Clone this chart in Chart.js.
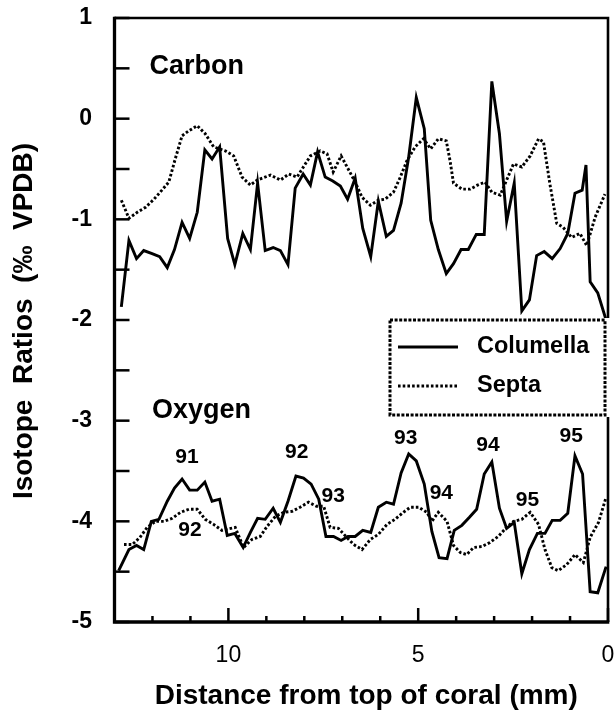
<!DOCTYPE html>
<html>
<head>
<meta charset="utf-8">
<script src="https://cdn.jsdelivr.net/npm/chart.js@4.4.1/dist/chart.umd.min.js"></script>
<style>
  html, body { margin: 0; padding: 0; background: #fff; }
  canvas { display: block; }
</style>
</head>
<body>
<canvas id="c" width="615" height="724" style="width:615px;height:724px"></canvas>
<script>
// Distance from top of coral (mm) and isotope ratios (‰ VPDB)

// Carbon – columella
const carbonColumellaX = [12.82,12.62,12.42,12.23,12.01,11.81,11.61,11.42,11.22,11.02,10.82,10.62,10.43,10.23,10.02,9.83,9.62,9.42,9.23,9.03,8.82,8.63,8.43,8.24,8.03,7.84,7.65,7.45,7.25,7.05,6.86,6.66,6.46,6.25,6.05,5.84,5.65,5.45,5.25,5.05,4.84,4.67,4.47,4.26,4.07,3.87,3.68,3.47,3.26,3.06,2.86,2.67,2.47,2.27,2.07,1.88,1.68,1.47,1.26,1.06,0.87,0.68,0.58,0.47,0.27,0.05];
const carbonColumellaY = [-1.87,-1.21,-1.39,-1.31,-1.34,-1.37,-1.48,-1.30,-1.03,-1.19,-0.93,-0.31,-0.40,-0.28,-1.19,-1.45,-1.14,-1.30,-0.64,-1.31,-1.28,-1.31,-1.45,-0.69,-0.55,-0.66,-0.33,-0.58,-0.62,-0.67,-0.80,-0.59,-1.09,-1.37,-0.82,-1.17,-1.11,-0.84,-0.38,0.21,-0.10,-1.01,-1.30,-1.54,-1.44,-1.30,-1.30,-1.15,-1.15,0.37,-0.15,-1.02,-0.64,-1.91,-1.80,-1.36,-1.32,-1.39,-1.29,-1.14,-0.74,-0.71,-0.46,-1.62,-1.73,-2.00];

// Carbon – septa
const carbonSeptaX = [12.82,12.62,12.40,12.18,11.96,11.75,11.57,11.40,11.22,11.04,10.82,10.61,10.39,10.08,9.86,9.64,9.42,9.24,8.89,8.63,8.41,8.19,7.84,7.58,7.40,7.24,7.03,6.83,6.66,6.48,6.26,6.05,5.87,5.65,5.47,5.30,5.08,4.86,4.67,4.47,4.26,4.16,4.07,3.85,3.63,3.44,3.24,3.06,2.84,2.67,2.49,2.27,2.05,1.83,1.70,1.53,1.35,1.18,0.96,0.74,0.56,0.34,0.08];
const carbonSeptaY = [-0.81,-0.99,-0.93,-0.88,-0.80,-0.71,-0.63,-0.40,-0.17,-0.12,-0.07,-0.15,-0.28,-0.32,-0.37,-0.58,-0.66,-0.61,-0.56,-0.61,-0.55,-0.58,-0.37,-0.32,-0.35,-0.53,-0.37,-0.51,-0.63,-0.78,-0.86,-0.81,-0.80,-0.73,-0.58,-0.42,-0.28,-0.20,-0.30,-0.20,-0.22,-0.42,-0.64,-0.70,-0.70,-0.66,-0.63,-0.73,-0.76,-0.61,-0.45,-0.48,-0.37,-0.20,-0.23,-0.65,-1.04,-1.08,-1.18,-1.14,-1.26,-0.98,-0.75];

// Oxygen – columella
const oxygenColumellaX = [12.89,12.62,12.42,12.23,12.03,11.83,11.61,11.42,11.22,11.02,10.82,10.62,10.43,10.23,10.03,9.83,9.61,9.42,9.23,9.03,8.82,8.63,8.43,8.22,8.02,7.82,7.62,7.43,7.23,7.03,6.85,6.66,6.46,6.25,6.05,5.84,5.65,5.45,5.25,5.05,4.84,4.64,4.45,4.24,4.05,3.85,3.65,3.46,3.26,3.06,2.86,2.67,2.47,2.27,2.07,1.86,1.66,1.47,1.26,1.06,0.87,0.67,0.47,0.27,0.05];
const oxygenColumellaY = [-4.49,-4.28,-4.24,-4.28,-4.00,-3.98,-3.80,-3.67,-3.58,-3.69,-3.69,-3.61,-3.80,-3.78,-4.14,-4.12,-4.26,-4.11,-3.97,-3.98,-3.87,-4.01,-3.80,-3.55,-3.57,-3.63,-3.78,-4.15,-4.15,-4.19,-4.15,-4.15,-4.09,-4.11,-3.86,-3.81,-3.83,-3.52,-3.33,-3.40,-3.63,-4.10,-4.36,-4.37,-4.09,-4.04,-3.96,-3.88,-3.53,-3.41,-3.87,-4.07,-4.01,-4.52,-4.28,-4.12,-4.12,-3.99,-3.99,-3.92,-3.35,-3.53,-4.70,-4.71,-4.45];

// Oxygen – septa
const oxygenSeptaX = [12.75,12.53,12.33,12.14,11.92,11.70,11.48,11.26,11.04,10.82,10.61,10.39,10.17,9.82,9.60,9.38,9.16,8.98,8.76,8.54,8.32,8.11,7.89,7.68,7.49,7.32,7.10,6.88,6.70,6.48,6.26,6.05,5.82,5.61,5.39,5.21,4.99,4.77,4.64,4.47,4.24,4.07,3.89,3.72,3.54,3.32,3.11,2.89,2.67,2.49,2.27,2.05,1.83,1.66,1.48,1.31,1.09,0.87,0.65,0.47,0.25,0.05];
const oxygenSeptaY = [-4.23,-4.23,-4.16,-4.06,-4.00,-4.00,-3.97,-3.91,-3.88,-3.88,-3.98,-4.03,-4.09,-4.06,-4.26,-4.18,-4.15,-4.05,-3.95,-3.91,-3.90,-3.86,-3.81,-3.85,-3.85,-4.06,-4.07,-4.16,-4.23,-4.28,-4.18,-4.13,-4.03,-3.98,-3.91,-3.86,-3.86,-3.91,-4.00,-3.91,-4.00,-4.24,-4.31,-4.33,-4.26,-4.25,-4.21,-4.15,-4.06,-4.00,-3.98,-3.91,-4.03,-4.28,-4.46,-4.49,-4.43,-4.33,-4.41,-4.16,-4.01,-3.76];

// Axis ticks and labels
const xTickValues = [0, 5, 10];
const yTickValues = [1, 0, -1, -2, -3, -4, -5];
const seriesNames = ['Columella', 'Septa'];
const xAxisTitle = 'Distance from top of coral (mm)';
const yAxisTitle = 'Isotope  Ratios  (\u2030  VPDB)';

// Panel names and growth-year labels, placed in axis units
const notes = [
  { text: 'Carbon', at: [12.08, 0.52],  size: 27, align: 'left' },
  { text: 'Oxygen', at: [12.01, -2.90], size: 27, align: 'left' },
  { text: '91', at: [11.09, -3.36], size: 21, align: 'center' },
  { text: '92', at: [8.20, -3.31],  size: 21, align: 'center' },
  { text: '93', at: [5.33, -3.17],  size: 21, align: 'center' },
  { text: '94', at: [3.16, -3.24],  size: 21, align: 'center' },
  { text: '95', at: [0.97, -3.15],  size: 21, align: 'center' },
  { text: '92', at: [11.01, -4.09], size: 21, align: 'center' },
  { text: '93', at: [7.24, -3.75],  size: 21, align: 'center' },
  { text: '94', at: [4.39, -3.72],  size: 21, align: 'center' },
  { text: '95', at: [2.12, -3.79],  size: 21, align: 'center' }
];

const FONT = '"Liberation Sans", Arial, Helvetica, sans-serif';
const SOLID = { borderWidth: 2.9, borderDash: [] };
const DOTTED = { borderWidth: 2.9, borderDash: [2.6, 2.1] };

const pts = (xs, ys) => xs.map((v, i) => ({ x: v, y: ys[i] }));

function lineSet(label, xs, ys, style) {
  return {
    label,
    data: pts(xs, ys),
    borderColor: '#000',
    backgroundColor: '#000',
    borderWidth: style.borderWidth,
    borderDash: style.borderDash,
    pointRadius: 0,
    tension: 0,
    fill: false
  };
}

// Inward ticks and the box around the plot
const framePlugin = {
  id: 'frame',
  beforeDatasetsDraw(chart) {
    const { ctx, chartArea: a, scales: { x, y } } = chart;
    ctx.save();
    ctx.strokeStyle = '#000';
    ctx.lineCap = 'butt';
    ctx.lineWidth = 2.5;
    for (let v = y.min; v <= y.max + 1e-9; v += 0.5) {
      const py = y.getPixelForValue(v);
      ctx.beginPath(); ctx.moveTo(a.left, py); ctx.lineTo(a.left + 15, py); ctx.stroke();
    }
    for (let m = x.min; m <= x.max + 1e-9; m += 1) {
      const px = x.getPixelForValue(m);
      const len = xTickValues.includes(m) ? 14 : 6;
      ctx.beginPath(); ctx.moveTo(px, a.bottom); ctx.lineTo(px, a.bottom - len); ctx.stroke();
    }
    ctx.lineWidth = 2.6;
    ctx.beginPath();
    ctx.moveTo(a.left, a.top); ctx.lineTo(a.right, a.top); ctx.lineTo(a.right, a.bottom);
    ctx.stroke();
    ctx.lineWidth = 3.3;
    ctx.beginPath();
    ctx.moveTo(a.left, a.top - 1.3); ctx.lineTo(a.left, a.bottom); ctx.lineTo(a.right + 1.3, a.bottom);
    ctx.stroke();
    ctx.restore();
  },
  afterDatasetsDraw(chart) {
    const { ctx, chartArea: a, scales: { x, y } } = chart;
    ctx.save();
    ctx.fillStyle = '#000';

    // panel names and year labels
    ctx.textBaseline = 'middle';
    notes.forEach(n => {
      ctx.font = 'bold ' + n.size + 'px ' + FONT;
      ctx.textAlign = n.align;
      ctx.fillText(n.text, x.getPixelForValue(n.at[0]), y.getPixelForValue(n.at[1]));
    });

    // legend box
    const bx = a.right - 218, by = 320, bw = 215, bh = 95;
    ctx.fillStyle = '#fff';
    ctx.fillRect(bx - 2, by - 2, a.right - bx + 4, bh + 4);
    ctx.strokeStyle = '#000';
    ctx.lineWidth = 3;
    ctx.setLineDash([3, 1.6]);
    ctx.strokeRect(bx, by, bw, bh);
    const ds = chart.data.datasets;
    [0, 1].forEach(i => {
      const ly = by + 27 + i * 39;
      ctx.lineWidth = ds[i].borderWidth;
      ctx.setLineDash(ds[i].borderDash);
      ctx.beginPath(); ctx.moveTo(bx + 8, ly); ctx.lineTo(bx + 68, ly); ctx.stroke();
      ctx.setLineDash([]);
      ctx.fillStyle = '#000';
      ctx.font = 'bold 23.5px ' + FONT;
      ctx.textAlign = 'left';
      ctx.textBaseline = 'middle';
      ctx.fillText(seriesNames[i], bx + 87, ly);
    });

    // axis titles
    ctx.fillStyle = '#000';
    ctx.textAlign = 'center';
    ctx.textBaseline = 'alphabetic';
    ctx.font = 'bold 28px ' + FONT;
    ctx.fillText(xAxisTitle, (a.left + a.right) / 2 + 5, 704);
    ctx.save();
    ctx.translate(32, (a.top + a.bottom) / 2 + 1);
    ctx.rotate(-Math.PI / 2);
    ctx.font = 'bold 28px ' + FONT;
    ctx.fillText(yAxisTitle, 0, 0);
    ctx.restore();
    ctx.restore();
  }
};

new Chart(document.getElementById('c'), {
  type: 'line',
  data: {
    datasets: [
      lineSet('Carbon ' + seriesNames[0], carbonColumellaX, carbonColumellaY, SOLID),
      lineSet('Carbon ' + seriesNames[1], carbonSeptaX, carbonSeptaY, DOTTED),
      lineSet('Oxygen ' + seriesNames[0], oxygenColumellaX, oxygenColumellaY, SOLID),
      lineSet('Oxygen ' + seriesNames[1], oxygenSeptaX, oxygenSeptaY, DOTTED)
    ]
  },
  options: {
    responsive: false,
    animation: false,
    devicePixelRatio: 1,
    layout: { padding: { top: 18, right: 7, left: 0, bottom: 0 } },
    plugins: { legend: { display: false }, tooltip: { enabled: false } },
    scales: {
      x: {
        type: 'linear',
        reverse: true,
        min: 0,
        max: 13,
        grid: { display: false, drawTicks: false },
        border: { display: false },
        afterBuildTicks(s) { s.ticks = xTickValues.map(v => ({ value: v })); },
        ticks: {
          padding: 20,
          maxRotation: 0,
          color: '#000',
          font: { family: FONT, size: 23 }
        },
        afterFit(s) { s.height = 102; s.paddingLeft = 0; s.paddingRight = 0; }
      },
      y: {
        type: 'linear',
        min: -5,
        max: 1,
        grid: { display: false, drawTicks: false },
        border: { display: false },
        afterBuildTicks(s) { s.ticks = yTickValues.map(v => ({ value: v })); },
        ticks: {
          padding: 22.5,
          color: '#000',
          font: { family: FONT, size: 23, weight: 'bold' }
        },
        afterFit(s) { s.width = 114.5; s.paddingTop = 0; s.paddingBottom = 0; }
      }
    }
  },
  plugins: [framePlugin]
});
</script>
</body>
</html>
